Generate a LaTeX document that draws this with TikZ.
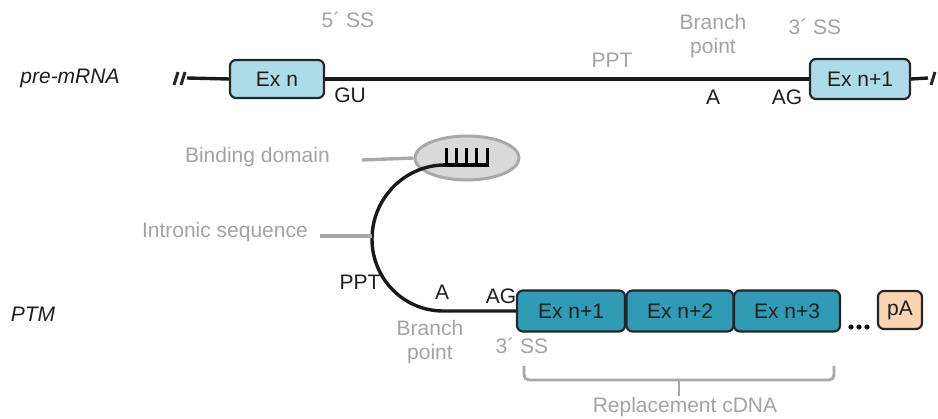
\documentclass[tikz,border=0pt]{standalone}
\usepackage{fontspec}
\setmainfont{Liberation Sans}
\usetikzlibrary{shapes.geometric}
\definecolor{exlight}{HTML}{ADDCE8}
\definecolor{exteal}{HTML}{2F9BB5}
\definecolor{peach}{HTML}{FAD3B0}
\definecolor{gtxt}{HTML}{A3A3A3}
\definecolor{gline}{HTML}{A8A8A8}
\definecolor{bfill}{HTML}{D9D9D9}
\definecolor{dtxt}{HTML}{1E1E1E}
\begin{document}
\begin{tikzpicture}[x=1pt,y=-1pt,
  every node/.style={font=\fontsize{21}{24}\selectfont, inner sep=0pt, text=dtxt},
  glabel/.style={text=gtxt, align=center},
  exonbox/.style={draw=black!85, line width=2.2pt, rounded corners=6pt, text=dtxt},
  rna/.style={line width=3.4pt, black!90},
  guide/.style={line width=3.4pt, gline},
  hash/.style={line width=3pt, black!85}]
\useasboundingbox (0,0) rectangle (938,419);

% pre-mRNA row
\node[font=\fontsize{21}{24}\selectfont\itshape] (pre) at (70,78) {pre-mRNA};
\node[exonbox, fill=exlight, minimum width=94pt, minimum height=38pt] (exn) at (277,79) {Ex n};
\node[exonbox, fill=exlight, minimum width=100pt, minimum height=40pt] (exn1) at (860,79) {Ex n+1};
\coordinate (lend) at (187,78);
\coordinate (rend) at (928,78);
\draw[rna] (lend) -- (exn.west);
\draw[rna] (exn.east) -- (exn1.west);
\draw[rna] (exn1.east) -- (rend);
\draw[hash] (174,85) -- (178,72);
\draw[hash] (181,85) -- (185,72);
\draw[hash] (931,85) -- (935,72);

\node (gu) at (350,95) {GU};
\node (abp) at (713,97) {A};
\node (ag) at (787,97) {AG};
\node[glabel] (ss5) at (348,20) {5´ SS};
\node[glabel] (ppt) at (612,60) {PPT};
\node[glabel, text depth=0pt] (bp) at (713,34) {Branch\\point};
\node[glabel] (ss3) at (815,27) {3´ SS};

% PTM row
\node[font=\fontsize{21}{24}\selectfont\itshape] (ptm) at (33,314) {PTM};
\node[ellipse, draw=gline, line width=3pt, fill=bfill, minimum width=104pt, minimum height=44pt] (bd) at (467,158) {};
\node[exonbox, fill=exteal, minimum width=108pt, minimum height=41pt] (e1) at (571,311) {Ex n+1};
\node[exonbox, fill=exteal, minimum width=107pt, minimum height=41pt] (e2) at (680,311) {Ex n+2};
\node[exonbox, fill=exteal, minimum width=106pt, minimum height=41pt] (e3) at (787,311) {Ex n+3};
\node[exonbox, fill=peach, minimum width=44pt, minimum height=38pt] (pa) at (900,310) {pA};

% binding comb
\coordinate (comb) at (443,165);
\draw[line width=3.2pt, black] (comb) -- (489,165);
\foreach \tx in {446,456,466,476,487}
  \draw[line width=3pt, black] (\tx,166) -- (\tx,148);

% intronic loop into the replacement exons
\draw[rna] (comb) .. controls (404,166) and (372,199) .. (372,239)
  .. controls (372,279) and (404,311) .. (443,311) -- (e1.west);

% pointer lines for the labels
\node[glabel, anchor=east] (bdl) at (330,157) {Binding domain};
\node[glabel, anchor=east] (isl) at (308,232) {Intronic sequence};
\draw[guide] (362,160) -- (bd.west);
\coordinate (loopleft) at (372,236);
\draw[guide] (320,236) -- (loopleft);

\node (ppt2) at (360,282) {PPT};
\node (a2) at (442,292) {A};
\node (ag2) at (501,296) {AG};
\node[glabel] (bp2) at (430,342) {Branch\\point};
\node[glabel] (ss32) at (522,346) {3´ SS};

% trailing dots
\foreach \dx in {851,859,867}
  \fill[black] (\dx,327) circle (2.6pt);

% replacement cDNA brace
\draw[guide, line width=2.8pt, rounded corners=5pt] (524,366) -- (524,380) -- (834,380) -- (834,366);
\draw[guide, line width=2.8pt] (679,380) -- (679,396);
\node[glabel] (rc) at (685,407) {Replacement cDNA};
\end{tikzpicture}
\end{document}
